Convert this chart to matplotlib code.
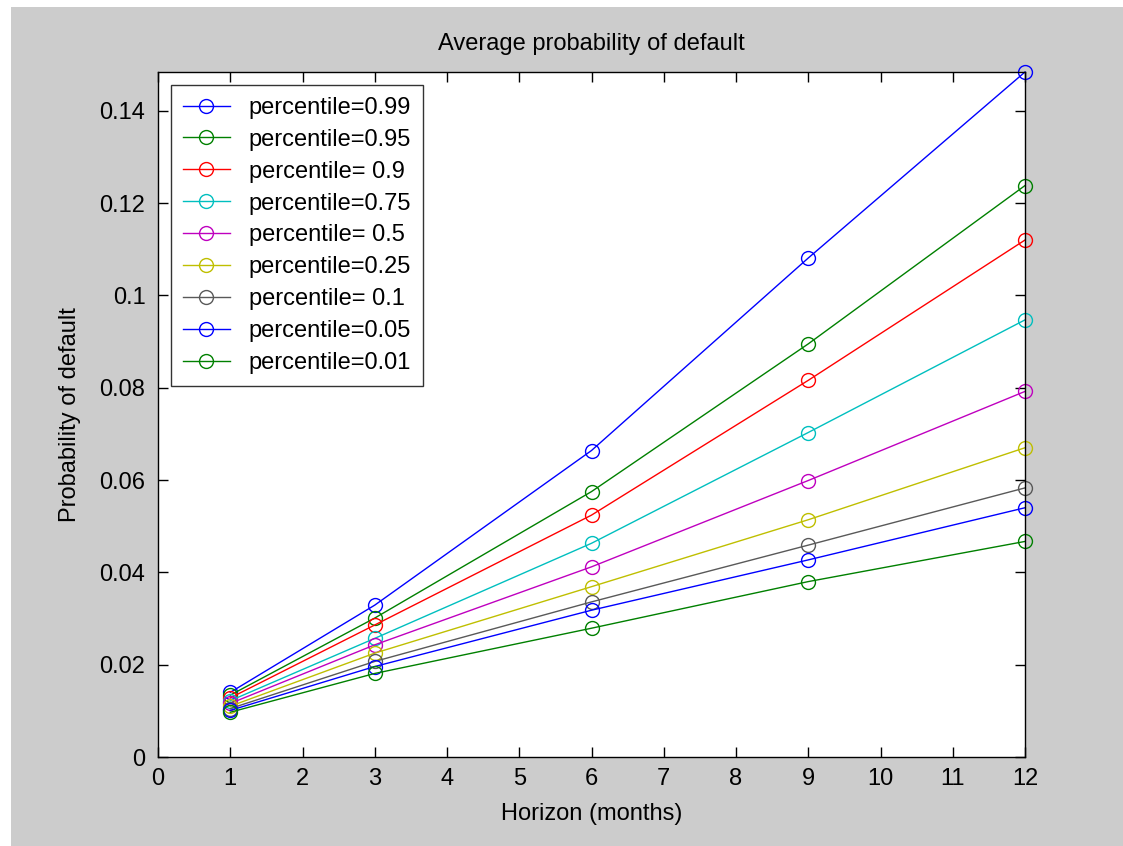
import matplotlib.pyplot as plt
from matplotlib.patches import Rectangle

horizon = [1, 3, 6, 9, 12]
labels = ["percentile=0.99", "percentile=0.95", "percentile= 0.9",
          "percentile=0.75", "percentile= 0.5", "percentile=0.25",
          "percentile= 0.1", "percentile=0.05", "percentile=0.01"]

p99 = [0.0140, 0.0329, 0.0664, 0.1081, 0.1484]
p95 = [0.0134, 0.0301, 0.0575, 0.0895, 0.1238]
p90 = [0.0128, 0.0286, 0.0524, 0.0816, 0.1120]
p75 = [0.0122, 0.0257, 0.0463, 0.0703, 0.0947]
p50 = [0.0116, 0.0243, 0.0412, 0.0599, 0.0792]
p25 = [0.0110, 0.0225, 0.0369, 0.0514, 0.0670]
p10 = [0.0105, 0.0207, 0.0336, 0.0459, 0.0583]
p05 = [0.0101, 0.0196, 0.0318, 0.0427, 0.0540]
p01 = [0.0097, 0.0181, 0.0279, 0.0380, 0.0467]
series = [p99, p95, p90, p75, p50, p25, p10, p05, p01]

colors = [(0, 0, 1), (0, 0.5, 0), (1, 0, 0), (0, 0.75, 0.75), (0.75, 0, 0.75),
          (0.75, 0.75, 0), (0.35, 0.35, 0.35), (0, 0, 1), (0, 0.5, 0)]

plt.rcParams['font.family'] = ['Liberation Sans', 'DejaVu Sans']

fig = plt.figure(figsize=(11.23, 8.46), dpi=100, facecolor="white")
fig.patches.append(Rectangle((11 / 1123, 0), 1, 1 - 7 / 846, transform=fig.transFigure,
                             facecolor="#cccccc", edgecolor="none", zorder=-10))
ax = fig.add_axes([158 / 1123, 89 / 846, (1025 - 158) / 1123, (757 - 72) / 846])

for vals, lab, col in zip(series, labels, colors):
    ax.plot(horizon, vals, color=col, linewidth=1, marker="o", markersize=10,
            markerfacecolor="none", markeredgecolor=col, markeredgewidth=1,
            label=lab, clip_on=False)

ax.set_xlim(0, 12)
ax.set_ylim(0, max(p99))
ax.set_xticks(range(0, 13))
ax.set_yticks([0, 0.02, 0.04, 0.06, 0.08, 0.1, 0.12, 0.14])
ax.set_yticklabels(["0", "0.02", "0.04", "0.06", "0.08", "0.1", "0.12", "0.14"])
ax.tick_params(direction="in", top=True, right=True, length=7, width=1,
               labelsize=17)
ax.tick_params(axis="y", pad=9)
ax.tick_params(axis="x", pad=8)
for s in ax.spines.values():
    s.set_linewidth(1)

ax.set_title("Average probability of default", fontsize=17, pad=16)
ax.set_xlabel("Horizon (months)", fontsize=17, labelpad=9)
ax.set_ylabel("Probability of default", fontsize=17, labelpad=13)

leg = ax.legend(loc="upper left", fontsize=17, frameon=True, fancybox=False,
                edgecolor="black", borderaxespad=0.55, handlelength=2.0,
                labelspacing=0.42, borderpad=0.5, handletextpad=0.8)
leg.get_frame().set_linewidth(1)

fig.savefig("out.png", dpi=100, facecolor=fig.get_facecolor())
